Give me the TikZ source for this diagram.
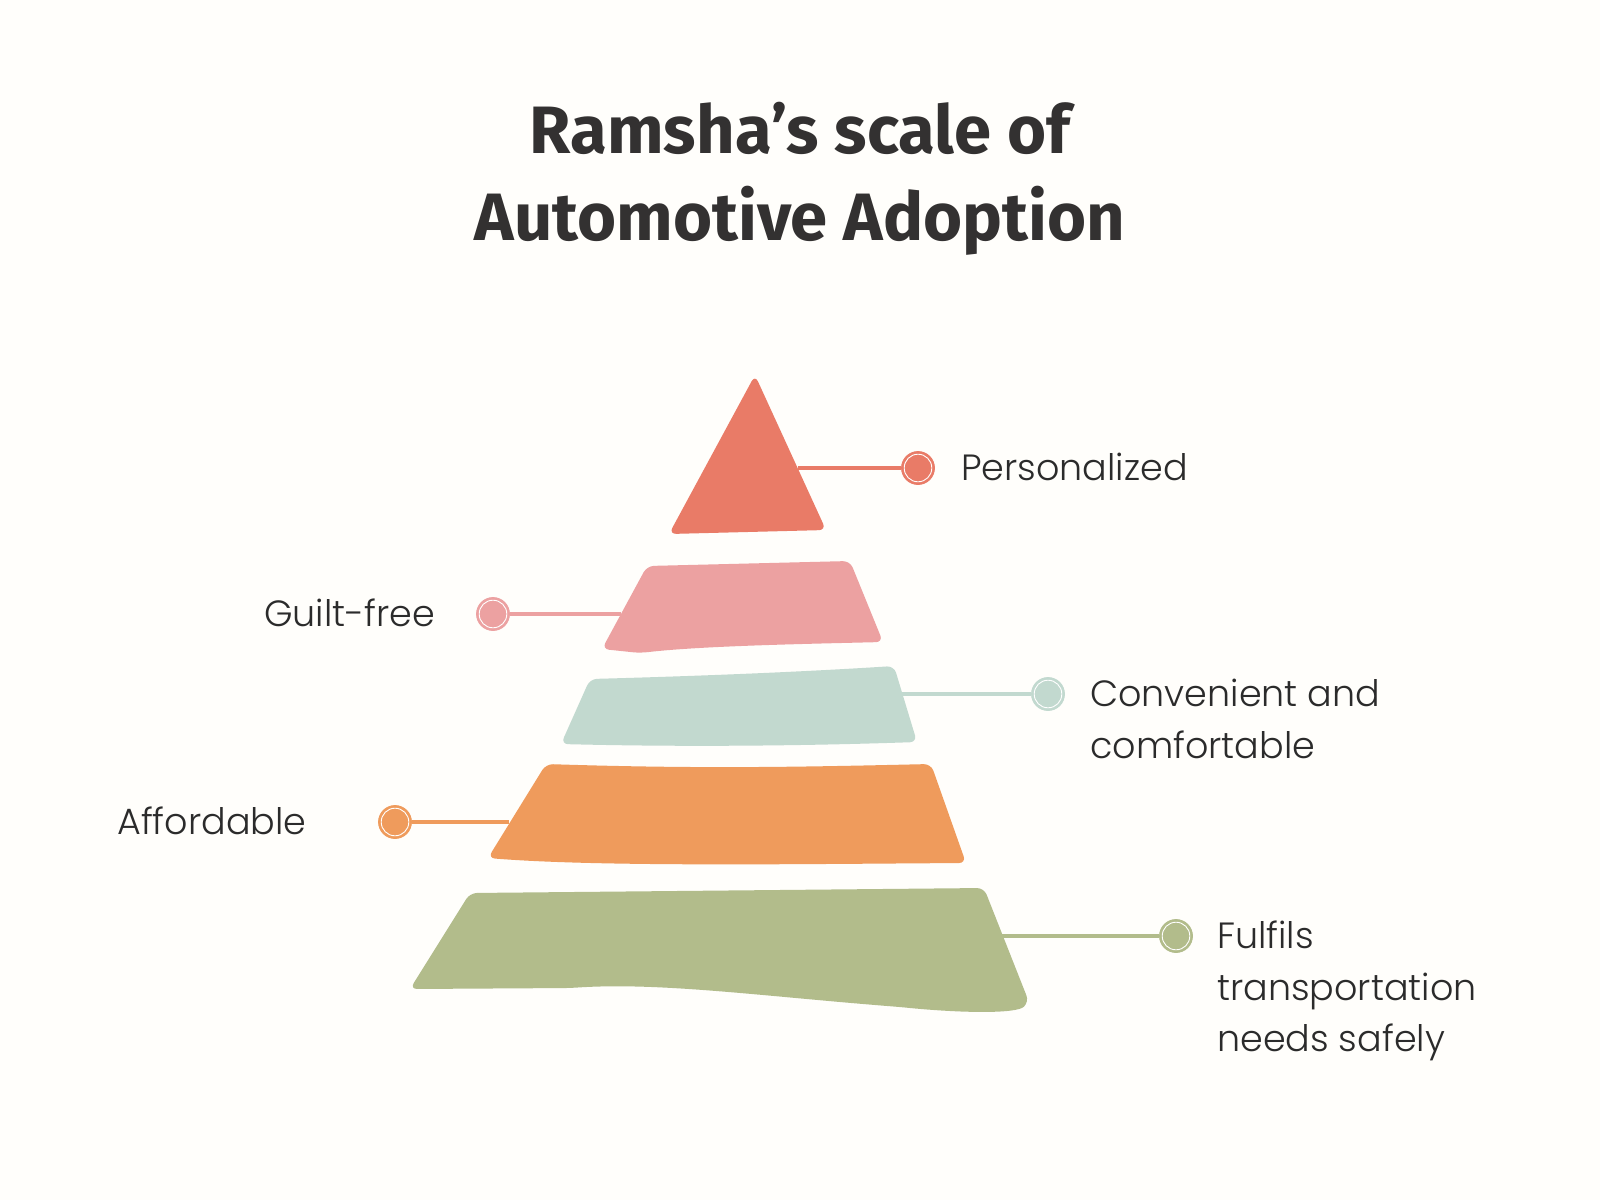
\documentclass[tikz,border=0pt]{standalone}
\usepackage{fontspec}
\setmainfont{Poppins Light}
\newfontfamily\titlefont{Fira Sans}
\definecolor{bgc}{HTML}{FFFEFB}
\definecolor{txt}{HTML}{2B2B2B}
\definecolor{ttl}{HTML}{333131}
\definecolor{cRed}{HTML}{E97B67}
\definecolor{cPink}{HTML}{ECA1A1}
\definecolor{cMint}{HTML}{C2D9CF}
\definecolor{cOrange}{HTML}{EF9B5C}
\definecolor{cGreen}{HTML}{B2BC8B}
\tikzset{
  lbl/.style={font=\fontsize{36.5}{40}\selectfont, text=txt, inner sep=0pt},
  ttlstyle/.style={font=\titlefont\bfseries\fontsize{67}{80}\selectfont, text=ttl, inner sep=0pt},
  dot/.style={circle, fill=#1, draw=#1, line width=0.8pt, minimum size=33pt, inner sep=0pt,
    path picture={\draw[white, line width=0.9pt] (path picture bounding box.center) circle (13.8pt);}},
  conn/.style={draw=#1, line width=3.5pt},
  tier/.style={fill=#1, rounded corners=7pt}
}
\begin{document}
\begin{tikzpicture}[x=1pt,y=-1pt]
\fill[bgc] (0,0) rectangle (1600,1200);
\useasboundingbox (0,0) rectangle (1600,1200);

% title
\node[ttlstyle, anchor=base] (t1) at (800,153) {Ramsha’s scale of};
\node[ttlstyle, anchor=base] (t2) at (800,240) {Automotive Adoption};

% tiers
\fill[tier=cRed] (755,375) -- (826,530) -- (669,534) -- cycle;
\fill[tier=cPink] (647,566) -- (850,561) -- (883,642) .. controls (800,644) and (700,646) .. (640,653) -- (602,649) -- cycle;
\fill[tier=cMint] (590,679) .. controls (700,676) and (800,672) .. (894,666) -- (917,742) .. controls (800,746) and (680,747) .. (561,744) -- cycle;
\fill[tier=cOrange] (546,764) .. controls (700,769) and (800,767) .. (931,764) -- (966,863) .. controls (800,864) and (600,867) .. (488,858) -- cycle;
\fill[tier=cGreen] (470,893) -- (984,888) -- (1029,1002) .. controls (1016,1014) and (960,1013) .. (900,1007) .. controls (760,996) and (660,982) .. (570,988) -- (410,989) -- cycle;

% connector end points on the tiers
\coordinate (eP) at (798,468);
\coordinate (eG) at (621,614);
\coordinate (eC) at (902,694);
\coordinate (eA) at (509,822);
\coordinate (eF) at (1002,936);

% dots
\node[dot=cRed] (dP) at (918,468) {};
\node[dot=cPink] (dG) at (493,614) {};
\node[dot=cMint] (dC) at (1048,694) {};
\node[dot=cOrange] (dA) at (395,822) {};
\node[dot=cGreen] (dF) at (1176,936) {};

% connectors
\draw[conn=cRed] (eP) -- (dP);
\draw[conn=cPink] (eG) -- (dG);
\draw[conn=cMint] (eC) -- (dC);
\draw[conn=cOrange] (eA) -- (dA);
\draw[conn=cGreen] (eF) -- (dF);

% labels
\node[lbl, anchor=base west] (lP) at (961,480) {Personalized};
\node[lbl, anchor=base west] (lG) at (264,626) {Guilt-free};
\node[lbl, anchor=base west] (lC1) at (1090,706) {Convenient and};
\node[lbl, anchor=base west] (lC2) at (1090,758) {comfortable};
\node[lbl, anchor=base west] (lA) at (117,834) {Affordable};
\node[lbl, anchor=base west] (lF1) at (1217,948) {Fulfils};
\node[lbl, anchor=base west] (lF2) at (1217,1000) {transportation};
\node[lbl, anchor=base west] (lF3) at (1217,1051) {needs safely};
\end{tikzpicture}
\end{document}
